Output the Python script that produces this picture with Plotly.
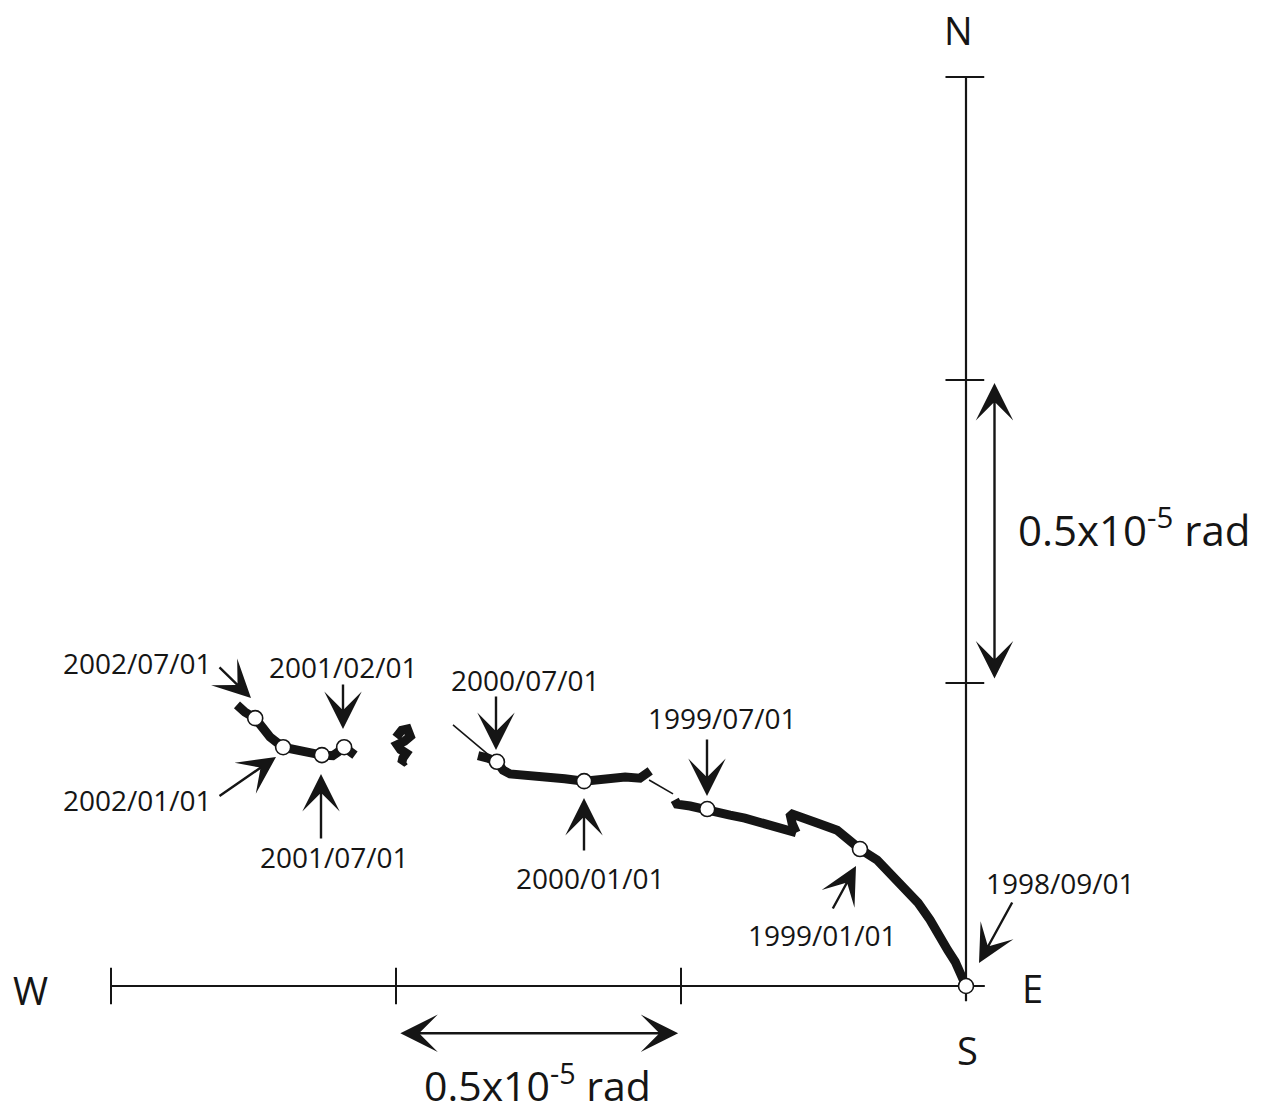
import plotly.graph_objects as go

# ---- data: tilt vector path (east, north) in units of 1e-5 rad ----
seg_a_e = [0.0, -0.007, -0.019, -0.032, -0.046, -0.063, -0.084, -0.111, -0.133, -0.156,
           -0.186, -0.207, -0.226, -0.261, -0.283, -0.309, -0.305, -0.298]
seg_a_n = [0.0, 0.018, 0.040, 0.059, 0.084, 0.109, 0.137, 0.163, 0.187, 0.208,
           0.226, 0.241, 0.257, 0.269, 0.277, 0.285, 0.268, 0.253]
seg_b_e = [-0.298, -0.326, -0.356, -0.388, -0.414, -0.454, -0.484, -0.507, -0.511]
seg_b_n = [0.253, 0.261, 0.267, 0.277, 0.282, 0.292, 0.297, 0.300, 0.307]
thin_1_e = [-0.514, -0.556]
thin_1_n = [0.317, 0.340]
seg_c_e = [-0.554, -0.572, -0.598, -0.625, -0.642, -0.670, -0.704, -0.739, -0.774,
           -0.800, -0.812, -0.823, -0.839, -0.856]
seg_c_n = [0.355, 0.343, 0.345, 0.342, 0.340, 0.338, 0.342, 0.345, 0.347,
           0.350, 0.356, 0.370, 0.376, 0.380]
thin_2_e = [-0.823, -0.900]
thin_2_n = [0.370, 0.431]
blob_e = [-1.000, -0.990, -0.980, -0.975, -0.985, -0.998, -0.992, -0.982, -0.988,
          -0.990, -0.984]
blob_n = [0.410, 0.422, 0.424, 0.412, 0.404, 0.398, 0.390, 0.384, 0.376, 0.368,
          0.372]
seg_d_e = [-1.072, -1.081, -1.091, -1.102, -1.111, -1.130, -1.151, -1.163, -1.186,
           -1.198, -1.221, -1.235, -1.247, -1.265, -1.279]
seg_d_n = [0.381, 0.389, 0.394, 0.386, 0.380, 0.381, 0.386, 0.389, 0.393,
           0.394, 0.411, 0.427, 0.442, 0.452, 0.464]

dates = ["1998/09/01", "1999/01/01", "1999/07/01", "2000/01/01", "2000/07/01",
         "2001/02/01", "2001/07/01", "2002/01/01", "2002/07/01"]
date_e = [0.0, -0.186, -0.454, -0.670, -0.823, -1.091, -1.130, -1.198, -1.247]
date_n = [0.0, 0.226, 0.292, 0.338, 0.370, 0.394, 0.381, 0.394, 0.442]

ticks = [0.5, 1.0, 1.5]
scale_label = "0.5x10<sup>-5</sup> rad"

# ---- layout geometry ----
W, H = 1273, 1118
X0, Y0, SX, SY = 966, 986, 570, 606
xr = [(0 - X0) / SX, (W - X0) / SX]
yr = [(Y0 - H) / SY, Y0 / SY]


def P(px, py):
    return px / W, 1 - py / H


INK = "#151515"
fig = go.Figure()


def line(xs, ys, w):
    fig.add_trace(go.Scatter(x=xs, y=ys, mode="lines", line=dict(color=INK, width=w),
                             hoverinfo="skip", showlegend=False))


# compass axes
line([-1.5, 0.033], [0, 0], 2.2)
line([0, 0], [-0.025, 1.5], 2.2)
for t in ticks:
    line([-t, -t], [-0.03, 0.03], 2.0)
    line([-0.036, 0.032], [t, t], 2.0)

# tilt path
for xs, ys in [(seg_a_e, seg_a_n), (seg_b_e, seg_b_n), (seg_c_e, seg_c_n), (seg_d_e, seg_d_n)]:
    line(xs, ys, 9)
line(blob_e, blob_n, 9)
line(thin_1_e, thin_1_n, 1.6)
line(thin_2_e, thin_2_n, 1.6)

fig.add_trace(go.Scatter(x=date_e, y=date_n, mode="markers",
                         marker=dict(size=15, color="white", line=dict(color=INK, width=1.6)),
                         hoverinfo="skip", showlegend=False))

# date labels (text center px) and arrows (tip px, tail offset px)
label_pos = {
    "1998/09/01": (1060, 883), "1999/01/01": (822, 935), "1999/07/01": (722, 718),
    "2000/01/01": (590, 878), "2000/07/01": (525, 680), "2001/02/01": (343, 667),
    "2001/07/01": (334, 857), "2002/01/01": (137, 800), "2002/07/01": (137, 663),
}
arrow_pos = {
    "1998/09/01": ((979, 963), 34, -62), "1999/01/01": ((856, 866), -24, 44),
    "1999/07/01": ((707, 796), 0, -58), "2000/01/01": ((584, 798), 0, 54),
    "2000/07/01": ((496, 750), 0, -55), "2001/02/01": ((343, 729), 0, -46),
    "2001/07/01": ((321, 774), 0, 66), "2002/01/01": ((276, 757), -58, 40),
    "2002/07/01": ((251, 698), -33, -32),
}
FONT = "Open Sans"
HEAD = 2.6
for d in dates:
    lx, ly = P(*label_pos[d])
    fig.add_annotation(x=lx, y=ly, xref="paper", yref="paper", text=d, showarrow=False,
                       font=dict(family=FONT, size=28, color=INK), xanchor="center", yanchor="middle")
    (tx, ty), ax, ay = arrow_pos[d]
    hx, hy = P(tx, ty)
    fig.add_annotation(x=hx, y=hy, xref="paper", yref="paper", ax=ax, ay=ay, text="",
                       showarrow=True, arrowhead=3, arrowsize=HEAD, arrowwidth=2.4, arrowcolor=INK)

# scale arrows
fig.add_annotation(x=0.05, y=0.995, ax=0.05, ay=0.505, xref="x", yref="y", axref="x", ayref="y",
                   text="", showarrow=True, arrowhead=3, arrowside="end+start",
                   arrowsize=HEAD, arrowwidth=2.4, arrowcolor=INK)
fig.add_annotation(x=-0.505, y=-0.078, ax=-0.995, ay=-0.078, xref="x", yref="y", axref="x", ayref="y",
                   text="", showarrow=True, arrowhead=3, arrowside="end+start",
                   arrowsize=HEAD, arrowwidth=2.4, arrowcolor=INK)

for txt, (px, py), size in [("N", (958, 30), 38), ("W", (30, 990), 38), ("E", (1032, 988), 38),
                            ("S", (968, 1050), 38),
                            (scale_label, (1134, 527), 42), (scale_label, (537, 1083), 41)]:
    x, y = P(px, py)
    fig.add_annotation(x=x, y=y, xref="paper", yref="paper", text=txt, showarrow=False,
                       font=dict(family=FONT, size=size, color=INK),
                       xanchor="center", yanchor="middle", borderpad=0)

fig.update_layout(width=W, height=H, autosize=False, margin=dict(l=0, r=0, t=0, b=0),
                  paper_bgcolor="white", plot_bgcolor="white",
                  xaxis=dict(range=xr, visible=False, fixedrange=True),
                  yaxis=dict(range=yr, visible=False, fixedrange=True))

fig.write_html("out.html")
